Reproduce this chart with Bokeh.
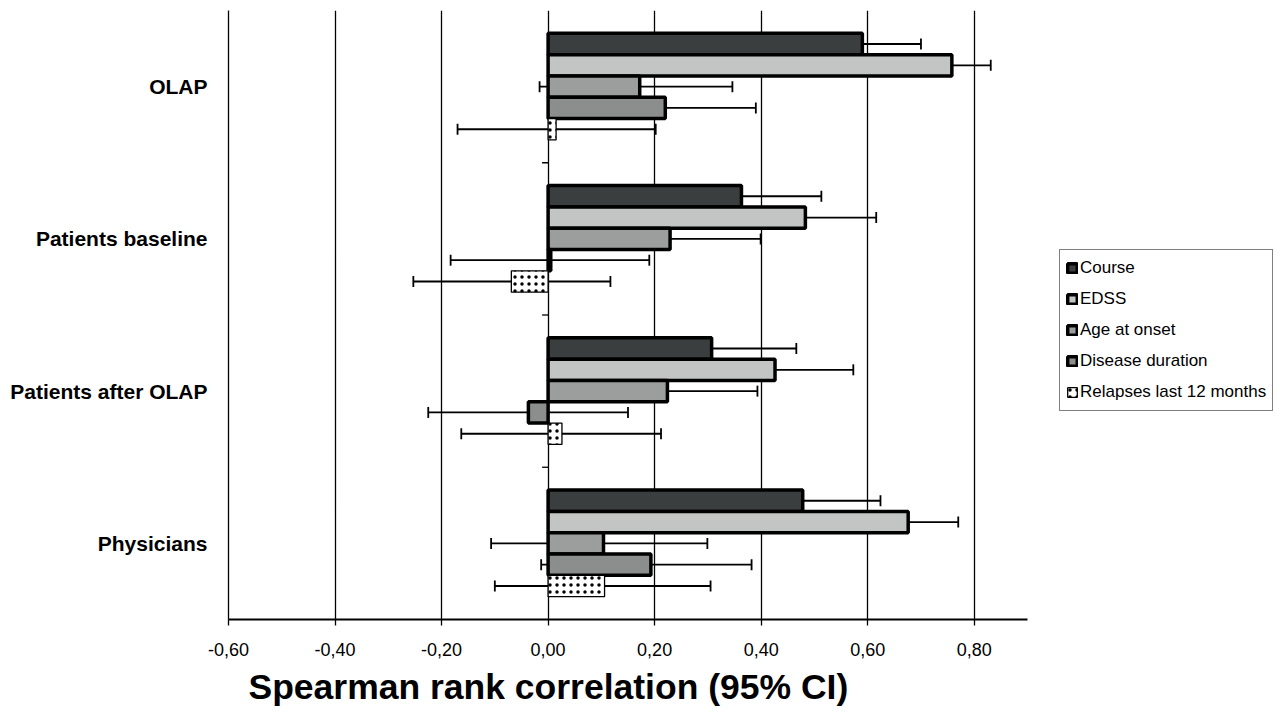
import numpy as np
from bokeh.plotting import figure
from bokeh.models import (ColumnDataSource, FixedTicker, LinearAxis, Range1d, Whisker, TeeHead,
                          Legend, LegendItem, CustomJSTickFormatter, Title)
from bokeh.embed import file_html
from bokeh.resources import INLINE

# ---------------- data ----------------
groups = ["OLAP", "Patients baseline", "Patients after OLAP", "Physicians"]
series = ["Course", "EDSS", "Age at onset", "Disease duration", "Relapses last 12 months"]

course = [0.590, 0.363, 0.307, 0.478]
course_lo = [0.455, 0.187, 0.126, 0.307]
course_hi = [0.700, 0.513, 0.466, 0.624]

edss = [0.758, 0.483, 0.426, 0.676]
edss_lo = [0.665, 0.318, 0.260, 0.540]
edss_hi = [0.831, 0.616, 0.573, 0.770]

age = [0.172, 0.229, 0.224, 0.104]
age_lo = [-0.016, 0.043, 0.037, -0.107]
age_hi = [0.346, 0.399, 0.393, 0.299]

duration = [0.220, 0.005, -0.037, 0.193]
duration_lo = [0.037, -0.183, -0.225, -0.013]
duration_hi = [0.390, 0.190, 0.150, 0.382]

relapses = [0.015, -0.069, 0.026, 0.106]
relapses_lo = [-0.170, -0.253, -0.163, -0.100]
relapses_hi = [0.202, 0.117, 0.212, 0.305]

x_ticks = [-0.6, -0.4, -0.2, 0.0, 0.2, 0.4, 0.6, 0.8]
x_axis_min, x_axis_max = -0.6, 0.9

values = [course, edss, age, duration, relapses]
lows = [course_lo, edss_lo, age_lo, duration_lo, relapses_lo]
highs = [course_hi, edss_hi, age_hi, duration_hi, relapses_hi]

fills = ["#3b3e3f", "#c3c5c4", "#9c9e9e", "#8c8d8d", "white"]
line_widths = [3.5, 3.5, 3.5, 3.5, 1.3]

FONT = "Liberation Sans"

W, H = 1277, 712
LEFT, TOP, BOTTOM = 228, 10, 92
AXIS_PX = 799  # pixel length of the x axis (from -0.6 to 0.9)
frame_w = W - LEFT
x_end = x_axis_min + (x_axis_max - x_axis_min) * frame_w / AXIS_PX

n_groups = len(groups)
p = figure(width=W, height=H, output_backend="svg", toolbar_location=None,
           x_range=Range1d(x_axis_min, x_end), y_range=Range1d(0, n_groups),
           min_border_left=LEFT, min_border_right=0, min_border_top=TOP,
           min_border_bottom=BOTTOM, x_axis_location=None, y_axis_location=None)
p.outline_line_color = None
p.background_fill_color = "white"
p.border_fill_color = "white"

# x axis
xt = FixedTicker(ticks=x_ticks, minor_ticks=[])
xaxis = LinearAxis(ticker=xt, bounds=(x_axis_min, x_axis_max))
xaxis.formatter = CustomJSTickFormatter(code="return tick.toFixed(2).replace('.', ',');")
xaxis.axis_line_color = "black"
xaxis.axis_line_width = 2
xaxis.major_tick_line_color = "black"
xaxis.major_tick_line_width = 1.3
xaxis.major_tick_out = 6
xaxis.major_tick_in = 0
xaxis.minor_tick_line_color = None
xaxis.major_label_text_font = FONT
xaxis.major_label_text_font_size = "18px"
xaxis.major_label_text_color = "black"
xaxis.major_label_standoff = 17
p.add_layout(xaxis, "below")

title = Title(text="Spearman rank correlation (95% CI)", align="left", offset=20,
              text_font=FONT, text_font_size="35.5px", text_font_style="bold",
              text_color="black", standoff=12)
p.add_layout(title, "below")

# y axis with group labels (its line is the left border at -0,60)
centers = [n_groups - i - 0.5 for i in range(n_groups)]
yaxis = LinearAxis(ticker=FixedTicker(ticks=centers, minor_ticks=[]))
yaxis.major_label_overrides = {c: g for c, g in zip(centers, groups)}
yaxis.axis_line_color = "black"
yaxis.axis_line_width = 1.3
yaxis.major_tick_line_color = None
yaxis.minor_tick_line_color = None
yaxis.major_label_text_font = FONT
yaxis.major_label_text_font_size = "21px"
yaxis.major_label_text_font_style = "bold"
yaxis.major_label_text_color = "black"
yaxis.major_label_standoff = 15
p.add_layout(yaxis, "left")

p.xgrid.ticker = xt
p.xgrid.grid_line_color = "black"
p.xgrid.grid_line_width = 1.3
p.ygrid.grid_line_color = None

# category ticks on the zero line
p.ray(x=[0.0] * (n_groups - 1), y=list(range(1, n_groups)), length=6, length_units="screen",
      angle=np.pi, line_color="black", line_width=1.3)

bar_h = 0.14
n_series = len(series)
items = []
for k, name in enumerate(series):
    offset = (n_series - 1) / 2 * bar_h - k * bar_h
    ys = [c + offset for c in centers]
    src = ColumnDataSource(dict(y=ys, v=values[k], lo=lows[k], hi=highs[k]))
    if k == n_series - 1:
        r = p.hbar(y="y", left=0, right="v", height=bar_h, source=src,
                   fill_color="white", line_color="black", line_width=line_widths[k],
                   hatch_pattern="dot", hatch_color="black", hatch_scale=7, hatch_weight=1.1)
    else:
        r = p.hbar(y="y", left=0, right="v", height=bar_h, source=src,
                   fill_color=fills[k], line_color="black", line_width=line_widths[k])
    items.append(LegendItem(label=name, renderers=[r]))

for k, name in enumerate(series):
    offset = (n_series - 1) / 2 * bar_h - k * bar_h
    ys = [c + offset for c in centers]
    src = ColumnDataSource(dict(y=ys, lo=lows[k], hi=highs[k]))
    w = Whisker(source=src, base="y", lower="lo", upper="hi", dimension="width",
                line_color="black", line_width=1.8,
                lower_head=TeeHead(size=11, line_color="black", line_width=1.8),
                upper_head=TeeHead(size=11, line_color="black", line_width=1.8))
    p.add_layout(w)

legend = Legend(items=items, location=(831, 208), orientation="vertical",
                label_text_font=FONT, label_text_font_size="17px", label_text_color="black",
                glyph_width=12, glyph_height=12, label_standoff=2, label_height=24,
                spacing=7, padding=6, margin=0,
                border_line_color="black", border_line_width=1.2,
                background_fill_color="white", background_fill_alpha=1.0)
p.add_layout(legend, "center")

open("out.html", "w").write(file_html(p, INLINE))
